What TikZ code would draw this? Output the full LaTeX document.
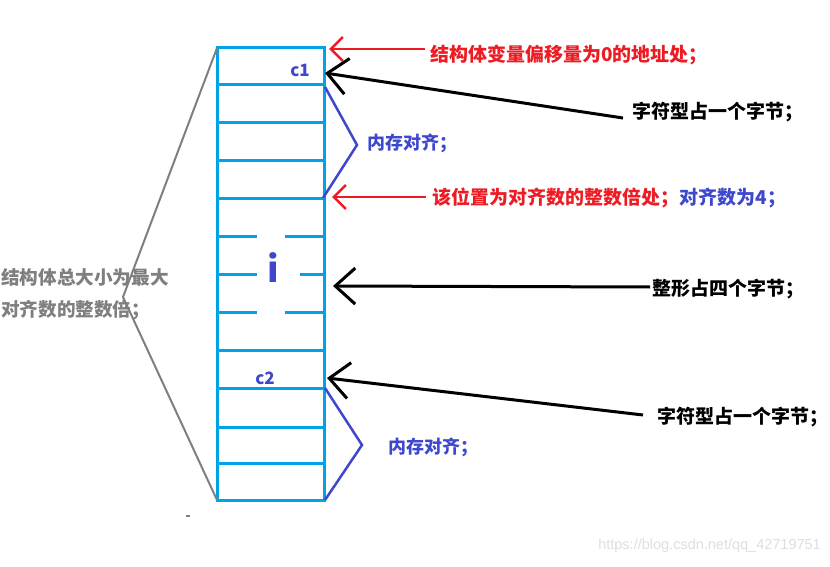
\documentclass[tikz,border=0pt]{standalone}
\usepackage{fontspec}
\usetikzlibrary{arrows.meta}
\newfontfamily\cjk{Noto Sans CJK SC}
\newfontfamily\wmfont{Liberation Sans}
\definecolor{boxblue}{RGB}{0,162,232}
\definecolor{pred}{RGB}{237,28,36}
\definecolor{indigo}{RGB}{63,72,204}
\definecolor{gtext}{RGB}{127,127,127}
\definecolor{wm}{RGB}{222,222,222}
\tikzset{
  cell/.style={draw=boxblue,line width=3pt},
  lbl/.style={inner sep=0pt,font=\cjk\bfseries\fontsize{19}{21}\selectfont},
  redarrow/.style={draw=pred,line width=2.5pt,-{Straight Barb[length=12pt,width=24pt,line width=2.5pt]}},
  blackarrow/.style={draw=black,line width=3pt,-{Straight Barb[length=20pt,width=36pt,line width=3pt]}},
  brace/.style={draw=indigo,line width=2.5pt},
}
\begin{document}
\begin{tikzpicture}[x=1pt,y=-1pt]
\useasboundingbox (0,0) rectangle (830,567);
% memory box
\draw[cell] (217,48) rectangle (324,500);
\foreach \yy in {85,123,161,198,350,388,427,463}
  \draw[cell] (217,\yy) -- (324,\yy);
\draw[cell] (217,236) -- (257,236) (285,236) -- (324,236);
\draw[cell] (217,274) -- (257,274) (300,274) -- (324,274);
\draw[cell] (217,312) -- (257,312) (285,312) -- (324,312);
% cell labels
\node[inner sep=0pt,text=indigo,font=\cjk\bfseries\fontsize{17}{19}\selectfont] (c1) at (300,70) {c1};
\node[inner sep=0pt,text=indigo,font=\cjk\bfseries\fontsize{17}{19}\selectfont] (c2) at (265,378) {c2};
\node[inner sep=0pt,text=indigo,font=\cjk\bfseries\fontsize{36}{40}\selectfont] (i) at (273,268) {i};
% gray V bracket
\coordinate (vt) at (217,48);
\coordinate (vm) at (123,297);
\coordinate (vb) at (217,500);
\draw[gtext,line width=2pt] (vt) -- (vm) -- (vb);
\node[lbl,anchor=west,text=gtext,font=\cjk\bfseries\fontsize{18.6}{21}\selectfont] (g1) at (1,277) {结构体总大小为最大};
\node[lbl,anchor=west,text=gtext,font=\cjk\bfseries\fontsize{18.6}{21}\selectfont] (g2) at (1,310) {对齐数的整数倍；};
\fill[gtext] (186,515) rectangle (190,517);
% blue braces
\coordinate (b1t) at (325,87);
\coordinate (b1m) at (357,145);
\coordinate (b1b) at (323,198);
\draw[brace] (b1t) -- (b1m) -- (b1b);
\node[lbl,anchor=west,text=indigo,font=\cjk\bfseries\fontsize{18}{20}\selectfont] (al1) at (367,143) {内存对齐；};
\coordinate (b2t) at (325,388);
\coordinate (b2m) at (362,445);
\coordinate (b2b) at (325,500);
\draw[brace] (b2t) -- (b2m) -- (b2b);
\node[lbl,anchor=west,text=indigo,font=\cjk\bfseries\fontsize{18}{20}\selectfont] (al2) at (388,447) {内存对齐；};
% red arrows
\coordinate (r1s) at (425,49);
\coordinate (r1e) at (329,49);
\draw[redarrow] (r1s) -- (r1e);
\node[lbl,anchor=west,text=pred] (t1) at (430,55) {结构体变量偏移量为0的地址处；};
\coordinate (r2s) at (426,197);
\coordinate (r2e) at (332,197);
\draw[redarrow] (r2s) -- (r2e);
\node[lbl,anchor=west,text=pred] (t2) at (432,198) {该位置为对齐数的整数倍处；};
\node[lbl,anchor=west,text=indigo] (t2b) at (t2.east) {对齐数为4；};
% black arrows
\coordinate (k1s) at (623,118);
\coordinate (k1e) at (325,73);
\draw[blackarrow] (k1s) -- (k1e);
\node[lbl,anchor=west] (t3) at (632,112) {字符型占一个字节；};
\coordinate (k2s) at (650,287);
\coordinate (k2e) at (333,286);
\draw[blackarrow] (k2s) -- (k2e);
\node[lbl,anchor=west] (t4) at (652,289) {整形占四个字节；};
\coordinate (k3s) at (643,415);
\coordinate (k3e) at (327,378);
\draw[blackarrow] (k3s) -- (k3e);
\node[lbl,anchor=west] (t5) at (657,417) {字符型占一个字节；};
% watermark
\node[inner sep=0pt,anchor=east,text=wm,font=\wmfont\fontsize{14.5}{16}\selectfont] (wmk) at (821,546) {https://blog.csdn.net/qq\_42719751};
\end{tikzpicture}
\end{document}
